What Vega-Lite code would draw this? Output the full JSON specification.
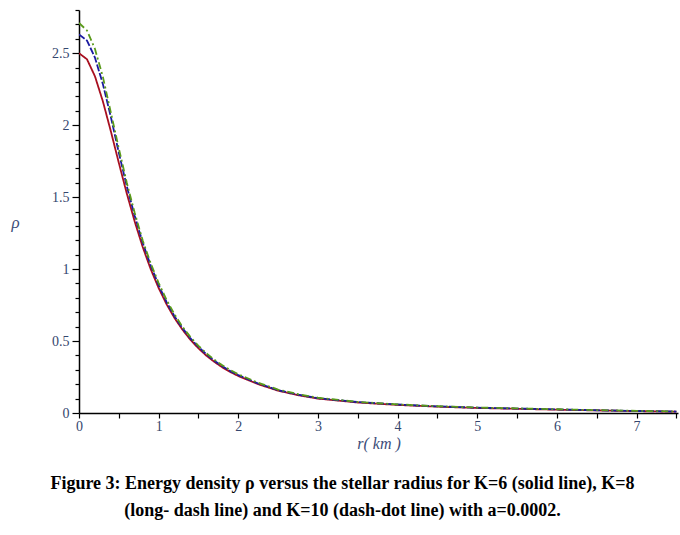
{
  "$schema": "https://vega.github.io/schema/vega-lite/v6.json",
  "description": "Energy density rho versus stellar radius for K=6, K=8, K=10 with a=0.0002",
  "background": "white",
  "autosize": "none",
  "padding": {"left": 79, "top": 10, "right": 2, "bottom": 122},
  "width": 599,
  "height": 403,
  "title": {
    "text": [
      "Figure 3: Energy density ρ versus the stellar radius for K=6 (solid line), K=8",
      "(long- dash line) and K=10 (dash-dot line) with a=0.0002."
    ],
    "orient": "bottom",
    "anchor": "middle",
    "dx": -36,
    "offset": 24,
    "font": "Liberation Serif",
    "fontSize": 18,
    "fontWeight": "bold",
    "color": "black",
    "lineHeight": 27
  },
  "data": {
    "values": [
      {"r": 0, "rho": 2.500, "K": "K=6"},
      {"r": 0.1, "rho": 2.458, "K": "K=6"},
      {"r": 0.2, "rho": 2.340, "K": "K=6"},
      {"r": 0.3, "rho": 2.165, "K": "K=6"},
      {"r": 0.4, "rho": 1.957, "K": "K=6"},
      {"r": 0.5, "rho": 1.738, "K": "K=6"},
      {"r": 0.6, "rho": 1.525, "K": "K=6"},
      {"r": 0.7, "rho": 1.329, "K": "K=6"},
      {"r": 0.8, "rho": 1.153, "K": "K=6"},
      {"r": 0.9, "rho": 1.000, "K": "K=6"},
      {"r": 1.0, "rho": 0.868, "K": "K=6"},
      {"r": 1.1, "rho": 0.755, "K": "K=6"},
      {"r": 1.2, "rho": 0.659, "K": "K=6"},
      {"r": 1.3, "rho": 0.578, "K": "K=6"},
      {"r": 1.4, "rho": 0.508, "K": "K=6"},
      {"r": 1.5, "rho": 0.449, "K": "K=6"},
      {"r": 1.6, "rho": 0.398, "K": "K=6"},
      {"r": 1.7, "rho": 0.355, "K": "K=6"},
      {"r": 1.8, "rho": 0.317, "K": "K=6"},
      {"r": 1.9, "rho": 0.285, "K": "K=6"},
      {"r": 2.0, "rho": 0.257, "K": "K=6"},
      {"r": 2.25, "rho": 0.200, "K": "K=6"},
      {"r": 2.5, "rho": 0.155, "K": "K=6"},
      {"r": 2.75, "rho": 0.124, "K": "K=6"},
      {"r": 3.0, "rho": 0.100, "K": "K=6"},
      {"r": 3.5, "rho": 0.073, "K": "K=6"},
      {"r": 4.0, "rho": 0.056, "K": "K=6"},
      {"r": 4.5, "rho": 0.044, "K": "K=6"},
      {"r": 5.0, "rho": 0.035, "K": "K=6"},
      {"r": 5.5, "rho": 0.029, "K": "K=6"},
      {"r": 6.0, "rho": 0.023, "K": "K=6"},
      {"r": 6.5, "rho": 0.018, "K": "K=6"},
      {"r": 7.0, "rho": 0.013, "K": "K=6"},
      {"r": 7.5, "rho": 0.009, "K": "K=6"},
      {"r": 0, "rho": 2.630, "K": "K=8"},
      {"r": 0.1, "rho": 2.588, "K": "K=8"},
      {"r": 0.2, "rho": 2.470, "K": "K=8"},
      {"r": 0.3, "rho": 2.285, "K": "K=8"},
      {"r": 0.4, "rho": 2.057, "K": "K=8"},
      {"r": 0.5, "rho": 1.808, "K": "K=8"},
      {"r": 0.6, "rho": 1.575, "K": "K=8"},
      {"r": 0.7, "rho": 1.369, "K": "K=8"},
      {"r": 0.8, "rho": 1.183, "K": "K=8"},
      {"r": 0.9, "rho": 1.025, "K": "K=8"},
      {"r": 1.0, "rho": 0.888, "K": "K=8"},
      {"r": 1.1, "rho": 0.770, "K": "K=8"},
      {"r": 1.2, "rho": 0.671, "K": "K=8"},
      {"r": 1.3, "rho": 0.589, "K": "K=8"},
      {"r": 1.4, "rho": 0.518, "K": "K=8"},
      {"r": 1.5, "rho": 0.459, "K": "K=8"},
      {"r": 1.6, "rho": 0.407, "K": "K=8"},
      {"r": 1.7, "rho": 0.363, "K": "K=8"},
      {"r": 1.8, "rho": 0.324, "K": "K=8"},
      {"r": 1.9, "rho": 0.291, "K": "K=8"},
      {"r": 2.0, "rho": 0.263, "K": "K=8"},
      {"r": 2.25, "rho": 0.205, "K": "K=8"},
      {"r": 2.5, "rho": 0.159, "K": "K=8"},
      {"r": 2.75, "rho": 0.127, "K": "K=8"},
      {"r": 3.0, "rho": 0.103, "K": "K=8"},
      {"r": 3.5, "rho": 0.076, "K": "K=8"},
      {"r": 4.0, "rho": 0.059, "K": "K=8"},
      {"r": 4.5, "rho": 0.046, "K": "K=8"},
      {"r": 5.0, "rho": 0.037, "K": "K=8"},
      {"r": 5.5, "rho": 0.031, "K": "K=8"},
      {"r": 6.0, "rho": 0.025, "K": "K=8"},
      {"r": 6.5, "rho": 0.019, "K": "K=8"},
      {"r": 7.0, "rho": 0.014, "K": "K=8"},
      {"r": 7.5, "rho": 0.010, "K": "K=8"},
      {"r": 0, "rho": 2.710, "K": "K=10"},
      {"r": 0.1, "rho": 2.658, "K": "K=10"},
      {"r": 0.2, "rho": 2.530, "K": "K=10"},
      {"r": 0.3, "rho": 2.335, "K": "K=10"},
      {"r": 0.4, "rho": 2.087, "K": "K=10"},
      {"r": 0.5, "rho": 1.838, "K": "K=10"},
      {"r": 0.6, "rho": 1.600, "K": "K=10"},
      {"r": 0.7, "rho": 1.389, "K": "K=10"},
      {"r": 0.8, "rho": 1.198, "K": "K=10"},
      {"r": 0.9, "rho": 1.040, "K": "K=10"},
      {"r": 1.0, "rho": 0.903, "K": "K=10"},
      {"r": 1.1, "rho": 0.785, "K": "K=10"},
      {"r": 1.2, "rho": 0.684, "K": "K=10"},
      {"r": 1.3, "rho": 0.598, "K": "K=10"},
      {"r": 1.4, "rho": 0.527, "K": "K=10"},
      {"r": 1.5, "rho": 0.467, "K": "K=10"},
      {"r": 1.6, "rho": 0.414, "K": "K=10"},
      {"r": 1.7, "rho": 0.370, "K": "K=10"},
      {"r": 1.8, "rho": 0.331, "K": "K=10"},
      {"r": 1.9, "rho": 0.298, "K": "K=10"},
      {"r": 2.0, "rho": 0.269, "K": "K=10"},
      {"r": 2.25, "rho": 0.210, "K": "K=10"},
      {"r": 2.5, "rho": 0.163, "K": "K=10"},
      {"r": 2.75, "rho": 0.131, "K": "K=10"},
      {"r": 3.0, "rho": 0.106, "K": "K=10"},
      {"r": 3.5, "rho": 0.077, "K": "K=10"},
      {"r": 4.0, "rho": 0.060, "K": "K=10"},
      {"r": 4.5, "rho": 0.047, "K": "K=10"},
      {"r": 5.0, "rho": 0.038, "K": "K=10"},
      {"r": 5.5, "rho": 0.032, "K": "K=10"},
      {"r": 6.0, "rho": 0.026, "K": "K=10"},
      {"r": 6.5, "rho": 0.020, "K": "K=10"},
      {"r": 7.0, "rho": 0.015, "K": "K=10"},
      {"r": 7.5, "rho": 0.011, "K": "K=10"}
    ]
  },
  "mark": {"type": "line", "strokeWidth": 1.8, "clip": true},
  "encoding": {
    "x": {
      "field": "r",
      "type": "quantitative",
      "scale": {"domain": [0, 7.52], "nice": false, "zero": false},
      "axis": {
        "title": "r( km )",
        "values": [0, 0.5, 1, 1.5, 2, 2.5, 3, 3.5, 4, 4.5, 5, 5.5, 6, 6.5, 7, 7.5],
        "labelExpr": "datum.value % 1 === 0 ? datum.label : ''",
        "format": "~g",
        "grid": false,
        "domainColor": "black",
        "domainWidth": 1.5,
        "tickColor": "black",
        "tickSize": 5,
        "tickWidth": 1.2,
        "labelFont": "Liberation Serif",
        "labelFontSize": 14,
        "labelColor": "#34466e",
        "labelPadding": 1,
        "labelFlush": false,
        "titleFont": "Liberation Serif",
        "titleFontSize": 16,
        "titleFontStyle": "italic",
        "titleFontWeight": "normal",
        "titleColor": "#3c4c78",
        "titlePadding": 2
      }
    },
    "y": {
      "field": "rho",
      "type": "quantitative",
      "scale": {"domain": [0, 2.8], "nice": false},
      "axis": {
        "title": "ρ",
        "values": [0, 0.1, 0.2, 0.3, 0.4, 0.5, 0.6, 0.7, 0.8, 0.9, 1, 1.1, 1.2, 1.3, 1.4, 1.5, 1.6, 1.7, 1.8, 1.9, 2, 2.1, 2.2, 2.3, 2.4, 2.5, 2.6, 2.7, 2.8],
        "labelExpr": "abs(datum.value * 2 - round(datum.value * 2)) < 0.001 ? datum.label : ''",
        "format": "~g",
        "grid": false,
        "domainColor": "black",
        "domainWidth": 1.5,
        "tickColor": "black",
        "tickWidth": 1.2,
        "tickSize": {"condition": {"test": "abs(datum.value * 2 - round(datum.value * 2)) < 0.001", "value": 7}, "value": 4},
        "labelFont": "Liberation Serif",
        "labelFontSize": 14,
        "labelColor": "#34466e",
        "labelPadding": 3,
        "labelFlush": false,
        "titleFont": "Liberation Serif",
        "titleFontSize": 17,
        "titleFontStyle": "italic",
        "titleFontWeight": "normal",
        "titleColor": "#3c4c78",
        "titleAngle": 0,
        "titleAlign": "center",
        "titleBaseline": "middle",
        "titleX": -64,
        "titleY": 212
      }
    },
    "color": {
      "field": "K",
      "type": "nominal",
      "scale": {"domain": ["K=6", "K=8", "K=10"], "range": ["#a81020", "#1a1aa0", "#5a9a1a"]},
      "legend": null
    },
    "strokeDash": {
      "field": "K",
      "type": "nominal",
      "scale": {"domain": ["K=6", "K=8", "K=10"], "range": [[1, 0], [7, 2], [7, 3, 2, 3]]},
      "legend": null
    }
  },
  "config": {"view": {"stroke": null}}
}
